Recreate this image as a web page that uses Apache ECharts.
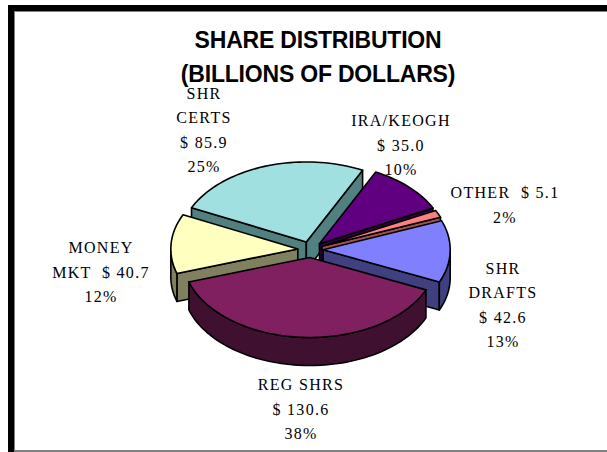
<!DOCTYPE html>
<html>
<head>
<meta charset="utf-8">
<title>Share Distribution</title>
<style>
  html, body { margin: 0; padding: 0; background: #fff; }
  #chart { width: 607px; height: 452px; }
  #chart svg text { letter-spacing: 1.3px; }
  #chart svg text[style*="bold"] { letter-spacing: -0.2px; }
</style>
<script src="https://cdn.jsdelivr.net/npm/echarts@6/dist/echarts.min.js"></script>
</head>
<body>
<div id="chart"></div>
<script>
// Share balances in billions of dollars, clockwise from the first slice.
const categories = ['IRA/KEOGH', 'OTHER', 'SHR DRAFTS', 'REG SHRS', 'MONEY MKT', 'SHR CERTS'];
const amounts = [35.0, 5.1, 42.6, 130.6, 40.7, 85.9];
const percents = [10, 2, 13, 38, 12, 25];
const labelLines = [
  ['IRA/KEOGH', '$ 35.0', '10%'],
  ['OTHER  $ 5.1', '2%'],
  ['SHR', 'DRAFTS', '$ 42.6', '13%'],
  ['REG SHRS', '$ 130.6', '38%'],
  ['MONEY', 'MKT  $ 40.7', '12%'],
  ['SHR', 'CERTS', '$ 85.9', '25%']
];
const topColors = ['#600080', '#FF8080', '#8080FF', '#802060', '#FFFFC0', '#A0E0E0'];
const sideColors = ['#300040', '#A05050', '#404080', '#401030', '#808060', '#508080'];
const titleLines = ['SHARE DISTRIBUTION', '(BILLIONS OF DOLLARS)'];

// Tilted-disc geometry of the pie.
const disc = { cx: 310.5, cy: 249.5, rx: 127, ry: 80, depth: 28, explode: 0.1, startDeg: 26.3 };
const labelAnchors = [[401, 145], [505, 205], [503, 305], [301, 409], [101, 272], [204, 130]];

const total = amounts.reduce((s, v) => s + v, 0);
const rad = d => d * Math.PI / 180;

// Cumulative angular extents, measured clockwise from twelve o'clock.
let cursor = disc.startDeg;
const slices = amounts.map((v, i) => {
  const from = cursor;
  cursor += v / total * 360;
  return { index: i, from, to: cursor, mid: (from + cursor) / 2 };
});

// Slices are painted from the back of the disc to the front.
const paintOrder = slices.slice().sort((a, b) => Math.cos(rad(b.mid)) - Math.cos(rad(a.mid)));

function rimPoint(c, deg, drop) {
  return [c.x + disc.rx * Math.sin(rad(deg)), c.y - disc.ry * Math.cos(rad(deg)) + drop];
}

function arcPoints(c, from, to, drop) {
  const pts = [];
  const steps = Math.max(2, Math.ceil((to - from) / 2));
  for (let k = 0; k <= steps; k++) pts.push(rimPoint(c, from + (to - from) * k / steps, drop));
  return pts;
}

function renderSlice(params, api) {
  const s = paintOrder[params.dataIndex];
  const i = s.index;
  const c = {
    x: disc.cx + disc.explode * disc.rx * Math.sin(rad(s.mid)),
    y: disc.cy - disc.explode * disc.ry * Math.cos(rad(s.mid))
  };
  const top = topColors[i];
  const side = sideColors[i];
  const line = { stroke: '#000', lineWidth: 1.6, lineJoin: 'round' };
  const face = (points, fill) => ({
    type: 'polygon', shape: { points }, style: Object.assign({ fill }, line)
  });
  const children = [];

  // Cut faces that turn toward the viewer.
  [[s.from, s.from - 90], [s.to, s.to + 90]].forEach(([deg, normal]) => {
    if (Math.cos(rad(normal)) < 0) {
      children.push(face([
        [c.x, c.y], rimPoint(c, deg, 0), rimPoint(c, deg, disc.depth), [c.x, c.y + disc.depth]
      ], side));
    }
  });

  // Outer wall along the front half of the rim.
  [0, 360].forEach(shift => {
    const a = Math.max(s.from, 90 + shift);
    const b = Math.min(s.to, 270 + shift);
    if (b > a) {
      children.push(face(
        arcPoints(c, a, b, 0).concat(arcPoints(c, a, b, disc.depth).reverse()), side
      ));
    }
  });

  // Top surface of the slice.
  children.push(face([[c.x, c.y]].concat(arcPoints(c, s.from, s.to, 0)), top));

  return { type: 'group', children };
}

function renderLabel(params, api) {
  const i = paintOrder[params.dataIndex].index;
  const [x, y] = labelAnchors[i];
  return {
    type: 'text',
    style: {
      text: labelLines[i].join('\n'),
      x, y,
      align: 'center',
      verticalAlign: 'middle',
      font: '16px "Liberation Serif"',
      lineHeight: 24.5,
      fill: '#000'
    }
  };
}

const chart = echarts.init(document.getElementById('chart'), null, { renderer: 'svg' });
const seriesData = paintOrder.map(s => ({ name: categories[s.index], value: amounts[s.index] }));

chart.setOption({
  animation: false,
  backgroundColor: '#fff',
  title: {
    text: titleLines.join('\n'),
    left: 313,
    top: 18,
    textAlign: 'center',
    textStyle: {
      fontFamily: 'Liberation Sans',
      fontWeight: 'bold',
      fontSize: 23,
      lineHeight: 34,
      color: '#000'
    }
  },
  graphic: [
    { type: 'rect', shape: { x: 14, y: 11, width: 593, height: 1 }, style: { fill: '#808080' } },
    { type: 'rect', shape: { x: 14, y: 11, width: 1, height: 439 }, style: { fill: '#808080' } },
    { type: 'rect', shape: { x: 14, y: 450, width: 593, height: 2 }, style: { fill: '#808080' } },
    { type: 'rect', shape: { x: 8, y: 5, width: 599, height: 6 }, style: { fill: '#000' } },
    { type: 'rect', shape: { x: 8, y: 5, width: 6, height: 447 }, style: { fill: '#000' } }
  ],
  series: [
    { type: 'custom', coordinateSystem: 'none', renderItem: renderSlice, data: seriesData, silent: true },
    { type: 'custom', coordinateSystem: 'none', renderItem: renderLabel, data: seriesData, silent: true }
  ]
});
</script>
</body>
</html>
